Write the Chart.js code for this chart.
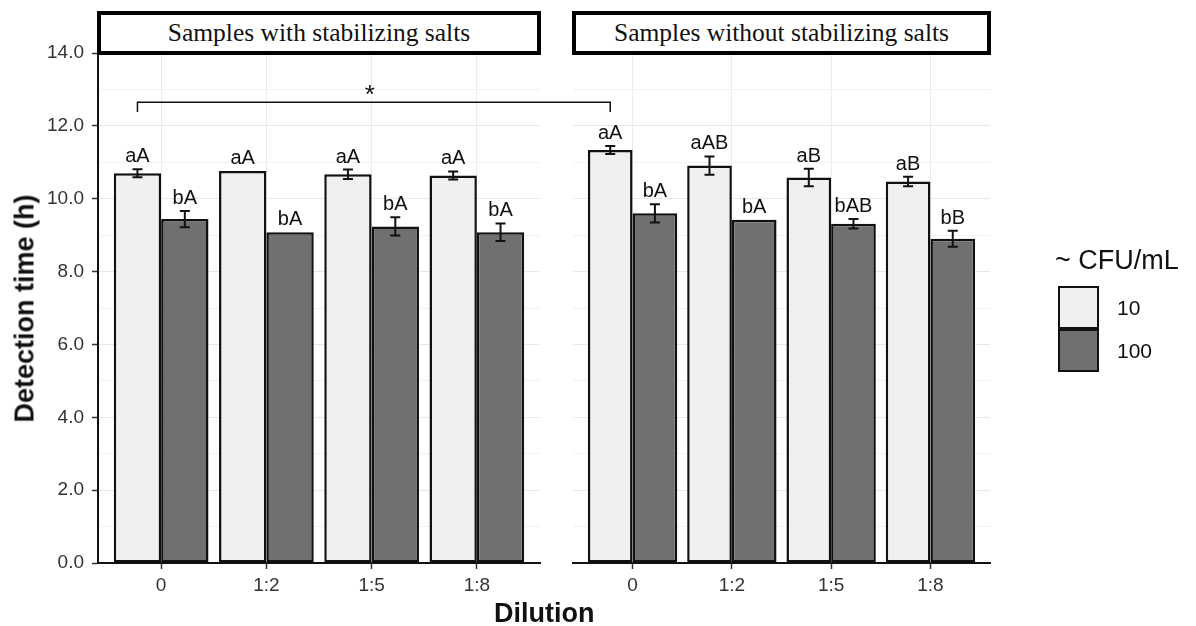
<!DOCTYPE html>
<html>
<head>
<meta charset="utf-8">
<script src="https://cdn.jsdelivr.net/npm/chart.js@4.4.1/dist/chart.umd.min.js"></script>
<style>
  body { margin: 0; width: 1196px; height: 626px; background: #fff; position: relative; overflow: hidden;
         font-family: "Liberation Sans", Arial, sans-serif; color: #111; }
  canvas { position: absolute; left: 0; top: 0; }
  .strip { position: absolute; box-sizing: border-box; border: 4px solid #000; background: #fff;
           font-family: "Liberation Serif", "Times New Roman", serif; font-size: 25.5px;
           display: flex; align-items: center; justify-content: center; white-space: nowrap; }
  .title { position: absolute; font-weight: bold; font-size: 27px; line-height: 27px; white-space: nowrap; }
  .legend-title { position: absolute; left: 1055px; top: 247px; font-size: 27px; line-height: 27px; }
  .key { position: absolute; left: 1058px; width: 41px; height: 43px; box-sizing: border-box; border: 2.5px solid #111; }
  .key-label { position: absolute; left: 1117px; font-size: 21px; line-height: 21px; }
</style>
</head>
<body>
<canvas id="withSalts" width="1196" height="626"></canvas>
<canvas id="noSalts" width="1196" height="626"></canvas>

<div class="strip" id="strip1">Samples with stabilizing salts</div>
<div class="strip" id="strip2">Samples without stabilizing salts</div>
<div class="title" id="ytitle">Detection time (h)</div>
<div class="title" id="xtitle">Dilution</div>

<div class="legend-title">~ CFU/mL</div>
<div class="key" style="top:286px; background:#f0f0f0"></div>
<div class="key" style="top:329px; background:#707070"></div>
<div class="key-label" style="top:297px">10</div>
<div class="key-label" style="top:340px">100</div>

<script>
const dilutions = ['0', '1:2', '1:5', '1:8'];
const yTicks = [0, 2, 4, 6, 8, 10, 12, 14];

// mean detection time (h) and error, samples with stabilizing salts
const withSalts10 = [10.70, 10.76, 10.67, 10.64];
const withSalts10Err = [0.11, 0.00, 0.13, 0.11];
const withSalts100 = [9.44, 9.08, 9.24, 9.08];
const withSalts100Err = [0.22, 0.00, 0.25, 0.24];

// samples without stabilizing salts
const noSalts10 = [11.34, 10.91, 10.58, 10.47];
const noSalts10Err = [0.11, 0.25, 0.24, 0.13];
const noSalts100 = [9.60, 9.42, 9.31, 8.90];
const noSalts100Err = [0.25, 0.00, 0.13, 0.22];

// letters from the multiple comparison test
const withSalts10Letters = ['aA', 'aA', 'aA', 'aA'];
const withSalts100Letters = ['bA', 'bA', 'bA', 'bA'];
const noSalts10Letters = ['aA', 'aAB', 'aB', 'aB'];
const noSalts100Letters = ['bA', 'bA', 'bAB', 'bB'];

// 0 dilution with vs without salts
const bracketLevel = 12.65;
const bracketDrop = 0.27;

const W = 1196, H = 626;
const TOP = 53, BOTTOM = 563;
const Y_AXIS_W = 60, X_AXIS_H = 40;
const LIGHT = '#f0f0f0', DARK = '#707070';
const FONT = '"Liberation Sans", Arial, sans-serif';

Chart.defaults.font.family = FONT;

const errorBars = {
  id: 'errorBars',
  afterDatasetsDraw(chart) {
    const ctx = chart.ctx, y = chart.scales.y;
    chart.data.datasets.forEach((ds, di) => {
      chart.getDatasetMeta(di).data.forEach((bar, i) => {
        const v = ds.data[i].y, e = ds.errors[i];
        const top = y.getPixelForValue(v + e), bot = y.getPixelForValue(v - e);
        ctx.save();
        if (e > 0) {
          ctx.strokeStyle = '#111';
          ctx.lineWidth = 2;
          ctx.beginPath();
          ctx.moveTo(bar.x, top); ctx.lineTo(bar.x, bot);
          ctx.moveTo(bar.x - 5, top); ctx.lineTo(bar.x + 5, top);
          ctx.moveTo(bar.x - 5, bot); ctx.lineTo(bar.x + 5, bot);
          ctx.stroke();
        }
        ctx.fillStyle = '#111';
        ctx.font = '20px ' + FONT;
        ctx.textAlign = 'center';
        ctx.textBaseline = 'alphabetic';
        ctx.fillText(ds.letters[i], bar.x, top - 7);
        ctx.restore();
      });
    });
  }
};

function series(label, values, errors, letters, color) {
  return {
    label: label,
    data: values.map((v, i) => ({ x: i, y: v })),
    errors: errors,
    letters: letters,
    backgroundColor: color,
    borderColor: '#111',
    borderWidth: 2.5,
    borderSkipped: false,
    categoryPercentage: 0.9,
    barPercentage: 1
  };
}

function makePanel(id, left, right, datasets, showY, extraPlugins) {
  const yw = showY ? Y_AXIS_W : 0;
  return new Chart(document.getElementById(id), {
    type: 'bar',
    data: { datasets: datasets },
    options: {
      responsive: false,
      animation: false,
      devicePixelRatio: 1,
      layout: { padding: { left: left - yw, right: W - right, top: TOP, bottom: H - BOTTOM - X_AXIS_H } },
      plugins: { legend: { display: false }, tooltip: { enabled: false } },
      scales: {
        x: {
          type: 'linear',
          min: -0.6,
          max: dilutions.length - 0.4,
          bounds: 'data',
          offset: false,
          afterBuildTicks: s => { s.ticks = dilutions.map((d, i) => ({ value: i })); },
          afterFit: s => { s.height = X_AXIS_H; },
          ticks: {
            autoSkip: false, maxRotation: 0, padding: 5,
            color: '#333', font: { size: 19 },
            callback: v => dilutions[v]
          },
          grid: { offset: false, color: '#ebebeb', lineWidth: 1, tickLength: 6, tickColor: '#333', tickWidth: 1.5 },
          border: { display: true, color: '#111', width: 2 }
        },
        y: {
          min: 0,
          max: 14,
          afterFit: s => { s.width = yw; },
          ticks: {
            stepSize: 1,
            display: showY,
            padding: 8,
            color: '#333',
            font: { size: 19 },
            callback: v => yTicks.includes(v) ? v.toFixed(1) : ''
          },
          grid: {
            color: c => yTicks.includes(c.tick.value) ? '#e8e8e8' : '#f2f2f2',
            lineWidth: 1,
            drawTicks: showY,
            tickLength: 6,
            tickWidth: 1.5,
            tickColor: c => yTicks.includes(c.tick.value) ? '#333' : 'rgba(0,0,0,0)'
          },
          border: { display: showY, color: '#111', width: 2 }
        }
      }
    },
    plugins: [errorBars].concat(extraPlugins || [])
  });
}

const withChart = makePanel('withSalts', 98, 540, [
  series('10', withSalts10, withSalts10Err, withSalts10Letters, LIGHT),
  series('100', withSalts100, withSalts100Err, withSalts100Letters, DARK)
], true);

// bracket joining the undiluted 10 CFU/mL bars of both panels
const bracket = {
  id: 'bracket',
  afterDraw(chart) {
    const ctx = chart.ctx, y = chart.scales.y;
    const x1 = withChart.getDatasetMeta(0).data[0].x;
    const x2 = chart.getDatasetMeta(0).data[0].x;
    const yl = y.getPixelForValue(bracketLevel), ye = y.getPixelForValue(bracketLevel - bracketDrop);
    ctx.save();
    ctx.strokeStyle = '#111';
    ctx.lineWidth = 1.5;
    ctx.beginPath();
    ctx.moveTo(x1, ye); ctx.lineTo(x1, yl); ctx.lineTo(x2, yl); ctx.lineTo(x2, ye);
    ctx.stroke();
    ctx.fillStyle = '#111';
    ctx.font = '26px ' + FONT;
    ctx.textAlign = 'center';
    ctx.textBaseline = 'alphabetic';
    ctx.fillText('*', (x1 + x2) / 2 - 4, yl + 1);
    ctx.restore();
  }
};

const noChart = makePanel('noSalts', 573, 990, [
  series('10', noSalts10, noSalts10Err, noSalts10Letters, LIGHT),
  series('100', noSalts100, noSalts100Err, noSalts100Letters, DARK)
], false, [bracket]);

// facet strips and axis titles follow the chart areas
function placeStrip(el, area) {
  el.style.left = (area.left - 1) + 'px';
  el.style.width = (area.right - area.left + 2) + 'px';
  el.style.top = '11px';
  el.style.height = (area.top - 11 + 2) + 'px';
}
placeStrip(document.getElementById('strip1'), withChart.chartArea);
placeStrip(document.getElementById('strip2'), noChart.chartArea);

const xt = document.getElementById('xtitle');
xt.style.left = ((withChart.chartArea.left + noChart.chartArea.right) / 2 - xt.offsetWidth / 2) + 'px';
xt.style.top = '600px';

const yt = document.getElementById('ytitle');
const yMid = (withChart.chartArea.top + withChart.chartArea.bottom) / 2;
yt.style.left = (25 - yt.offsetWidth / 2) + 'px';
yt.style.top = (yMid - 13) + 'px';
yt.style.transform = 'rotate(-90deg)';
</script>
</body>
</html>
